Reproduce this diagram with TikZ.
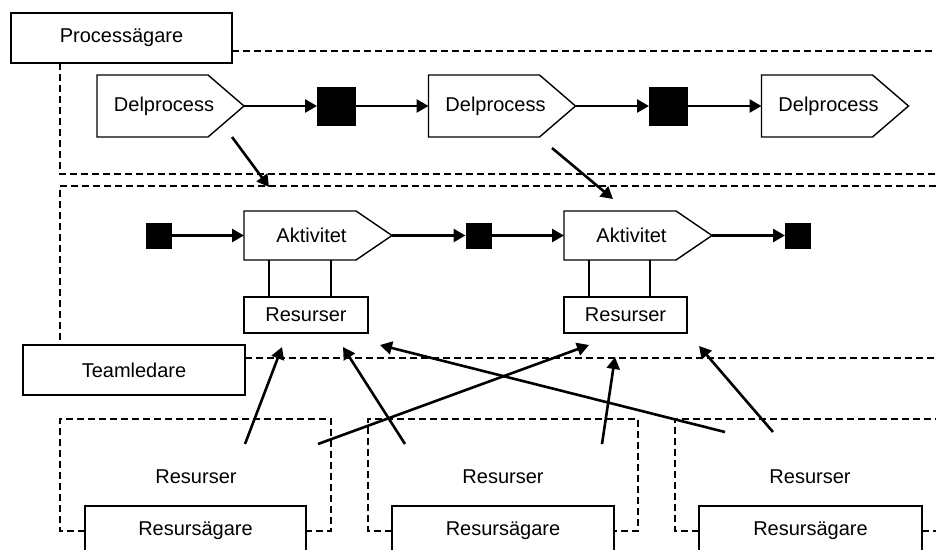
\documentclass[tikz,border=0pt]{standalone}
\usepackage{fontspec}
\setmainfont{Liberation Sans}
\usetikzlibrary{arrows.meta,calc}
\begin{document}
\begin{tikzpicture}[x=1pt,y=-1pt,
  every node/.style={font=\fontsize{20}{24}\selectfont, inner sep=0pt, outer sep=0pt},
  labelbox/.style={draw, line width=1.4pt, fill=white, rectangle},
  frame/.style={rectangle, draw=none},
  outline/.style={line width=1.4pt, line join=miter, fill=white},
  region/.style={line width=2.3pt, dash pattern=on 7pt off 4pt},
  flow/.style={line width=2.6pt, -{Triangle[length=12pt,width=13pt]}},
  link/.style={line width=1.4pt},
  bigterm/.style={rectangle, fill=black, minimum size=39pt},
  smallterm/.style={rectangle, fill=black, minimum size=26pt}
]
\useasboundingbox (0,0) rectangle (936,549);
\clip (0,0) rectangle (936,549);

% ---- dashed responsibility areas ----
\draw[region] (232,51) -- (936,51);
\draw[region] (60,63) -- (60,174) -- (936,174);
\draw[region] (936,186) -- (60,186) -- (60,345);
\draw[region] (245,358) -- (936,358);
\draw[region] (85,531) -- (60,531) -- (60,419) -- (331,419) -- (331,531) -- (306,531);
\draw[region] (392,531) -- (368,531) -- (368,419) -- (638,419) -- (638,531) -- (614,531);
\draw[region] (699,531) -- (675,531) -- (675,419) -- (936,419);
\draw[region] (922,531) -- (936,531);

% ---- owner labels ----
\node[labelbox, minimum width=221pt, minimum height=50pt] (po) at (121.5,38) {Processägare};
\node[labelbox, minimum width=222pt, minimum height=50pt] (tl) at (134,370) {Teamledare};

% ---- sub-processes ----
\foreach \n/\cx in {d1/170.5, d2/502, d3/835} {
  \node[frame, minimum width=147pt, minimum height=62pt] (\n) at (\cx,106) {};
  \draw[outline] (\n.north west) -- ([xshift=111pt]\n.north west) -- (\n.east)
    -- ([xshift=111pt]\n.south west) -- (\n.south west) -- cycle;
  \node (\n t) at ([xshift=67pt]\n.west) {Delprocess};
}
\node[bigterm] (s1) at (336.5,106) {};
\node[bigterm] (s2) at (668.5,106) {};
\draw[flow] (d1.east) -- (s1);
\draw[flow] (s1) -- (d2.west);
\draw[flow] (d2.east) -- (s2);
\draw[flow] (s2) -- (d3.west);

% ---- activities ----
\foreach \n/\cx in {a1/318, a2/638} {
  \node[frame, minimum width=148pt, minimum height=49pt] (\n) at (\cx,235.5) {};
  \draw[outline] (\n.north west) -- ([xshift=112pt]\n.north west) -- (\n.east)
    -- ([xshift=112pt]\n.south west) -- (\n.south west) -- cycle;
  \node (\n t) at ([xshift=67.5pt]\n.west) {Aktivitet};
}
\node[smallterm] (t1) at (158.5,235.5) {};
\node[smallterm] (t2) at (478.5,235.5) {};
\node[smallterm] (t3) at (798,235.5) {};
\draw[flow] (t1) -- (a1.west);
\draw[flow] (a1.east) -- (t2);
\draw[flow] (t2) -- (a2.west);
\draw[flow] (a2.east) -- (t3);

% ---- resources attached to activities ----
\node[labelbox, minimum width=124pt, minimum height=36pt] (r1) at (306,315) {Resurser};
\node[labelbox, minimum width=123pt, minimum height=36pt] (r2) at (625.5,315) {Resurser};
\draw[link] ([xshift=25pt]a1.south west) -- ([xshift=25pt]r1.north west);
\draw[link] ([xshift=87pt]a1.south west) -- ([xshift=87pt]r1.north west);
\draw[link] ([xshift=25pt]a2.south west) -- ([xshift=25pt]r2.north west);
\draw[link] ([xshift=86pt]a2.south west) -- ([xshift=86pt]r2.north west);

% ---- resource pools and their owners ----
\node (rb1) at (196,477) {Resurser};
\node (rb2) at (503,477) {Resurser};
\node (rb3) at (810,477) {Resurser};
\node[labelbox, minimum width=221pt, minimum height=50pt] (ro1) at (195.5,531) {Resursägare};
\node[labelbox, minimum width=222pt, minimum height=50pt] (ro2) at (503,531) {Resursägare};
\node[labelbox, minimum width=223pt, minimum height=50pt] (ro3) at (810.5,531) {Resursägare};

% ---- refinement arrows ----
\coordinate (p1) at (232,137);  \coordinate (q1) at (269,187);
\coordinate (p2) at (552,148);  \coordinate (q2) at (613,199);
\draw[flow] (p1) -- (q1);
\draw[flow] (p2) -- (q2);

% ---- allocation arrows ----
\coordinate (u1) at (245,444); \coordinate (v1) at (282,347);
\coordinate (u2) at (405,444); \coordinate (v2) at (343,347);
\coordinate (u3) at (318,444); \coordinate (v3) at (589,345);
\coordinate (u4) at (725,432); \coordinate (v4) at (380,345);
\coordinate (u5) at (602,444); \coordinate (v5) at (615,357);
\coordinate (u6) at (773,432); \coordinate (v6) at (699,346);
\foreach \i in {1,...,6} { \draw[flow] (u\i) -- (v\i); }
\end{tikzpicture}
\end{document}
